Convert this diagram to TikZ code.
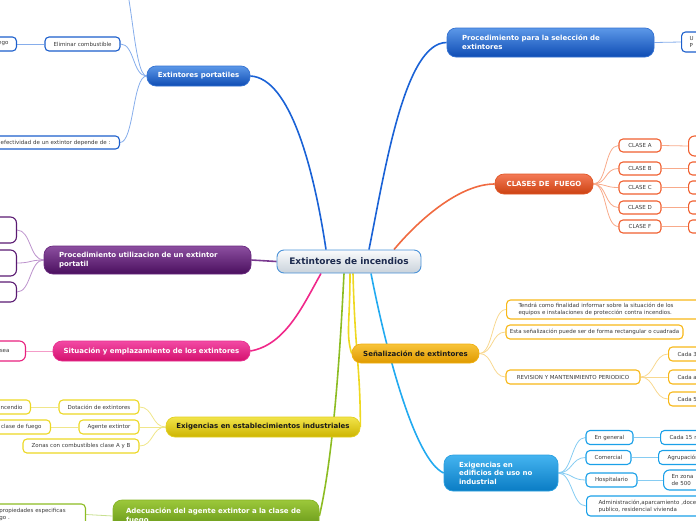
\documentclass[tikz,border=0pt]{standalone}
\usepackage{fontspec}
\setmainfont{DejaVu Sans}
\usetikzlibrary{backgrounds}
\definecolor{txt}{HTML}{3A3A3A}
\definecolor{dtxt}{HTML}{1A1A1A}
\definecolor{ctxt}{HTML}{1C2A4E}
\definecolor{cenT}{HTML}{FAFBFC}
\definecolor{cenB}{HTML}{C9D2DB}
\definecolor{cenD}{HTML}{4A92D8}
\definecolor{bluT}{HTML}{5C98E8}
\definecolor{bluB}{HTML}{0E4CB4}
\definecolor{bluD}{HTML}{3472D2}
\definecolor{bluK}{HTML}{1C5FCC}
\definecolor{bluL}{HTML}{86ADEB}
\definecolor{bluM}{HTML}{1A62D6}
\definecolor{purT}{HTML}{8C4FA0}
\definecolor{purB}{HTML}{4A0F5E}
\definecolor{purD}{HTML}{6A2A80}
\definecolor{purK}{HTML}{5A1A72}
\definecolor{purL}{HTML}{BC92CC}
\definecolor{purM}{HTML}{7A3A90}
\definecolor{pnkT}{HTML}{F24AA4}
\definecolor{pnkB}{HTML}{D4106E}
\definecolor{pnkD}{HTML}{E83090}
\definecolor{pnkK}{HTML}{E8207E}
\definecolor{pnkL}{HTML}{F49CC8}
\definecolor{pnkM}{HTML}{F0288A}
\definecolor{ylwT}{HTML}{F2E44A}
\definecolor{ylwB}{HTML}{CDB400}
\definecolor{ylwD}{HTML}{E2D020}
\definecolor{ylwK}{HTML}{ECD824}
\definecolor{ylwL}{HTML}{F0E68A}
\definecolor{ylwM}{HTML}{EED820}
\definecolor{grnT}{HTML}{9CC83A}
\definecolor{grnB}{HTML}{5E8E12}
\definecolor{grnD}{HTML}{86B426}
\definecolor{grnK}{HTML}{8CBC22}
\definecolor{grnL}{HTML}{C8E090}
\definecolor{grnM}{HTML}{8CBC22}
\definecolor{orgT}{HTML}{F47A56}
\definecolor{orgB}{HTML}{CC4212}
\definecolor{orgD}{HTML}{E05828}
\definecolor{orgK}{HTML}{F06030}
\definecolor{orgL}{HTML}{F8AA8A}
\definecolor{orgM}{HTML}{F06A40}
\definecolor{ambT}{HTML}{F8C43A}
\definecolor{ambB}{HTML}{DF9A00}
\definecolor{ambD}{HTML}{F0B010}
\definecolor{ambK}{HTML}{F8B818}
\definecolor{ambL}{HTML}{F8D890}
\definecolor{cyaT}{HTML}{44B4F0}
\definecolor{cyaB}{HTML}{0A7CC4}
\definecolor{cyaD}{HTML}{2AA0E0}
\definecolor{cyaK}{HTML}{1AA0E8}
\definecolor{cyaL}{HTML}{86CCF2}
\definecolor{cyaM}{HTML}{22AAF0}
\begin{document}
\begin{tikzpicture}[x=1pt,y=-1pt,
  base/.style={inner sep=0pt, align=center},
  cen/.style={base, rounded corners=7pt, top color=cenT, bottom color=cenB, draw=cenD, line width=0.9pt, font=\bfseries\fontsize{9}{10}\selectfont, text=ctxt, minimum width=144pt, minimum height=23pt},
  mainbox/.style={base, rounded corners=9pt, line width=0.7pt, font=\bfseries\fontsize{7}{8.8}\selectfont, text=white},
  kid/.style={base, draw, fill=white, rounded corners=4pt, line width=1.1pt, font=\fontsize{5.5}{7}\selectfont, text=txt, minimum height=14pt},
  thinl/.style={line width=0.8pt},
  thickl/.style={line width=1.6pt},
  bluebox/.style={mainbox, top color=bluT, bottom color=bluB, draw=bluD},
  purbox/.style={mainbox, top color=purT, bottom color=purB, draw=purD},
  pnkbox/.style={mainbox, top color=pnkT, bottom color=pnkB, draw=pnkD},
  ylwbox/.style={mainbox, top color=ylwT, bottom color=ylwB, draw=ylwD, text=dtxt},
  grnbox/.style={mainbox, top color=grnT, bottom color=grnB, draw=grnD},
  orgbox/.style={mainbox, top color=orgT, bottom color=orgB, draw=orgD},
  ambbox/.style={mainbox, top color=ambT, bottom color=ambB, draw=ambD, text=dtxt},
  cyabox/.style={mainbox, top color=cyaT, bottom color=cyaB, draw=cyaD},
  cutl/.style={anchor=east, align=right},
  cutr/.style={anchor=west, align=left}
]
\useasboundingbox (0,0) rectangle (696,520);
\begin{scope}
\clip (0,0) rectangle (696,520);
% central
\node[cen] (c) at (349,261.5) {Extintores de incendios};
% blue
\node[bluebox, minimum width=103pt, minimum height=20pt] (p) at (198.5,76) {Extintores portatiles};
\node[bluebox, text width=177pt, inner xsep=15pt, align=left, minimum height=29pt] (sel) at (550.5,42.5) {Procedimiento para la selección de\\extintores};
\node[kid, draw=bluK, cutr, text width=30pt, inner xsep=8pt, minimum height=20pt] (u) at (681,42) {U\\P};
\node[kid, draw=bluK, minimum width=75pt] (elim) at (82.5,44) {Eliminar combustible};
\node[kid, draw=bluK, cutl, text width=44pt, inner xsep=8pt] (ego) at (17,44) {ego};
\node[kid, draw=bluK, cutl, text width=122pt, inner xsep=9pt, minimum height=13pt] (efe) at (120,142.5) {efectividad de un extintor depende de :};
\coordinate (ptop) at (118,-30);
% purple
\node[purbox, text width=177pt, inner xsep=15pt, align=left, minimum height=28pt] (pu) at (147.5,260) {Procedimiento utilizacion de un extintor\\portatil};
\node[kid, draw=purK, anchor=east, minimum width=50pt, minimum height=26pt, rounded corners=6pt] (pa) at (17,230) {};
\node[kid, draw=purK, anchor=east, minimum width=50pt, minimum height=26pt, rounded corners=6pt] (pb) at (17,263) {};
\node[kid, draw=purK, anchor=east, minimum width=50pt, minimum height=20pt, rounded corners=6pt] (pc) at (17,292) {};
% pink
\node[pnkbox, minimum width=197pt, minimum height=20pt] (pk) at (151.5,351) {Situación y emplazamiento de los extintores};
\node[kid, draw=pnkK, cutl, text width=28pt, inner xsep=16pt, minimum height=20pt, rounded corners=6pt] (sea) at (26,351) {sea};
% yellow
\node[ylwbox, minimum width=194pt, minimum height=20pt] (ind) at (263,427) {Exigencias en establecimientos industriales};
\node[kid, draw=ylwK, minimum width=80pt] (dot) at (99,407) {Dotación de extintores};
\node[kid, draw=ylwK, cutl, text width=44pt, inner xsep=8pt] (inc) at (31,407) {incendio};
\node[kid, draw=ylwK, minimum width=60pt] (age) at (109,427) {Agente extintor};
\node[kid, draw=ylwK, cutl, text width=62pt, inner xsep=9pt] (cla) at (51,427) {clase de fuego};
\node[kid, draw=ylwK, minimum width=116pt] (zon) at (81,446) {Zonas con combustibles clase A y B};
% green
\node[grnbox, text width=180pt, inner xsep=13pt, align=left, minimum height=32pt] (gr) at (216,516) {Adecuación del agente extintor a la clase de\\fuego};
\node[kid, draw=grnK, cutl, align=left, text width=78pt, inner xsep=8pt, minimum height=21pt] (prop) at (86,514.5) {propiedades especificas\\go .};
% orange
\node[orgbox, minimum width=98pt, minimum height=20pt] (cl) at (544,184) {CLASES DE\ \ FUEGO};
\node[kid, draw=orgK, minimum width=42pt, minimum height=13pt] (ka) at (640,145.5) {CLASE A};
\node[kid, draw=orgK, minimum width=42pt, minimum height=13pt] (kb) at (640,168.5) {CLASE B};
\node[kid, draw=orgK, minimum width=42pt, minimum height=13pt] (kc) at (640,187.5) {CLASE C};
\node[kid, draw=orgK, minimum width=42pt, minimum height=13pt] (kd) at (640,207.5) {CLASE D};
\node[kid, draw=orgK, minimum width=42pt, minimum height=13pt] (kf) at (640,226.5) {CLASE F};
\node[kid, draw=orgK, anchor=west, minimum width=30pt, minimum height=20pt, rounded corners=6pt] (kar) at (688,146) {};
\node[kid, draw=orgK, anchor=west, minimum width=30pt, minimum height=13pt] (kbr) at (688,168.5) {};
\node[kid, draw=orgK, anchor=west, minimum width=30pt, minimum height=13pt] (kcr) at (688,187.5) {};
\node[kid, draw=orgK, anchor=west, minimum width=30pt, minimum height=13pt] (kdr) at (688,207.5) {};
\node[kid, draw=orgK, anchor=west, minimum width=30pt, minimum height=13pt] (kfr) at (688,226.5) {};
% amber
\node[ambbox, minimum width=127pt, minimum height=19pt] (se) at (415.5,353.5) {Señalización de extintores};
\node[kid, draw=ambK, cutr, text width=180pt, inner xsep=12pt, minimum height=19pt] (ten) at (506,309.5) {Tendrá como finalidad informar sobre la situación de los\\equipos e instalaciones de protección contra incendios.};
\node[kid, draw=ambK, minimum width=177pt] (esta) at (594.5,332) {Esta señalización puede ser de forma rectangular o cuadrada};
\node[kid, draw=ambK, minimum width=134pt] (rev) at (573,377) {REVISION Y MANTENIMIENTO PERIODICO};
\node[kid, draw=ambK, cutr, text width=30pt, inner xsep=9pt] (ra) at (668,354) {Cada 3};
\node[kid, draw=ambK, cutr, text width=30pt, inner xsep=9pt] (rb) at (668,377) {Cada a};
\node[kid, draw=ambK, cutr, text width=30pt, inner xsep=9pt] (rc) at (668,399) {Cada 5};
% cyan
\node[cyabox, text width=84pt, inner xsep=15pt, align=left, minimum height=36pt, font=\bfseries\fontsize{7}{8.4}\selectfont] (ed) at (501,473) {Exigencias en\\edificios de uso no\\industrial};
\node[kid, draw=cyaK, minimum width=47pt] (gen) at (609.5,437.5) {En general};
\node[kid, draw=cyaK, minimum width=45pt] (com) at (608.5,457.5) {Comercial};
\node[kid, draw=cyaK, minimum width=51pt] (hos) at (611.5,480) {Hospitalario};
\node[kid, draw=cyaK, cutr, text width=110pt, inner xsep=12pt, minimum height=20pt] (adm) at (586,506) {Administración,aparcamiento ,doce\\publico, residencial vivienda};
\node[kid, draw=cyaK, cutr, text width=34pt, inner xsep=9pt] (c15) at (660,437.5) {Cada 15 m};
\node[kid, draw=cyaK, cutr, text width=34pt, inner xsep=9pt] (agr) at (658,457.5) {Agrupación};
\node[kid, draw=cyaK, cutr, text width=34pt, inner xsep=8pt, minimum height=20pt, rounded corners=6pt] (enz) at (663,480) {En zona\\de 500};
\end{scope}

\begin{scope}[on background layer]
\clip (0,0) rectangle (696,520);
% main connectors
\draw[thickl, bluM] ([xshift=-23pt]c.north) .. controls +(-12,-80) and +(40,2) .. (p.east);
\draw[thickl, bluM] ([xshift=20pt]c.north) .. controls +(16,-80) and +(-42,0) .. (sel.west);
\draw[thickl, orgM] ([xshift=45pt]c.north) .. controls +(25,-30) and +(-35,0) .. (cl.west);
\draw[thickl, purM] (c.west) -- (pu.east);
\draw[thickl, pnkM] ([xshift=-28pt]c.south) .. controls +(-18,32) and +(35,-6) .. (pk.east);
\draw[thickl, grnM] ([xshift=-5pt]c.south) .. controls +(-4,80) and +(14,-60) .. (gr.east);
\draw[thickl, ylwM] ([xshift=1pt]c.south) .. controls +(0,50) and +(-6,-20) .. (se.west);
\draw[thickl, ylwM] ([xshift=4pt]c.south) .. controls +(2,80) and +(0,-60) .. (ind.east);
\draw[thickl, cyaM] ([xshift=22pt]c.south) .. controls +(15,77) and +(-29,-13) .. (ed.west);
% blue children
\draw[thinl, bluL] (p.west) .. controls +(-14,0) and +(14,0) .. (elim.east);
\draw[thinl, bluL] (p.west) .. controls +(-14,0) and +(14,0) .. (efe.east);
\draw[thinl, bluL] (p.west) .. controls +(-14,0) and +(14,0) .. (ptop);
\draw[thinl, bluL] (elim.west) -- (ego.east);
\draw[thinl, bluL] (sel.east) -- (u.west);
% purple children
\draw[thinl, purL] (pu.west) .. controls +(-14,0) and +(14,0) .. (pa.east);
\draw[thinl, purL] (pu.west) .. controls +(-14,0) and +(14,0) .. (pb.east);
\draw[thinl, purL] (pu.west) .. controls +(-14,0) and +(14,0) .. (pc.east);
% pink
\draw[thinl, pnkL] (pk.west) -- (sea.east);
% yellow children
\draw[thinl, ylwL] (ind.west) .. controls +(-14,0) and +(14,0) .. (dot.east);
\draw[thinl, ylwL] (ind.west) .. controls +(-14,0) and +(14,0) .. (age.east);
\draw[thinl, ylwL] (ind.west) .. controls +(-14,0) and +(14,0) .. (zon.east);
\draw[thinl, ylwL] (dot.west) -- (inc.east);
\draw[thinl, ylwL] (age.west) -- (cla.east);
% green
\draw[thinl, grnL] (gr.west) -- (prop.east);
% orange children
\foreach \k in {ka,kb,kc,kd,kf}{
  \draw[thinl, orgL] (cl.east) .. controls +(14,0) and +(-14,0) .. (\k.west);
  \draw[thinl, orgL] (\k.east) -- (\k r.west);
}
% amber children
\draw[thinl, ambL] (se.east) .. controls +(14,0) and +(-14,0) .. (ten.west);
\draw[thinl, ambL] (se.east) .. controls +(14,0) and +(-14,0) .. (esta.west);
\draw[thinl, ambL] (se.east) .. controls +(14,0) and +(-14,0) .. (rev.west);
\draw[thinl, ambL] (rev.east) .. controls +(14,0) and +(-14,0) .. (ra.west);
\draw[thinl, ambL] (rev.east) .. controls +(14,0) and +(-14,0) .. (rb.west);
\draw[thinl, ambL] (rev.east) .. controls +(14,0) and +(-14,0) .. (rc.west);
% cyan children
\draw[thinl, cyaL] (ed.east) .. controls +(14,0) and +(-14,0) .. (gen.west);
\draw[thinl, cyaL] (ed.east) .. controls +(14,0) and +(-14,0) .. (com.west);
\draw[thinl, cyaL] (ed.east) .. controls +(14,0) and +(-14,0) .. (hos.west);
\draw[thinl, cyaL] (ed.east) .. controls +(14,0) and +(-14,0) .. (adm.west);
\draw[thinl, cyaL] (gen.east) -- (c15.west);
\draw[thinl, cyaL] (com.east) -- (agr.west);
\draw[thinl, cyaL] (hos.east) -- (enz.west);
\end{scope}
\end{tikzpicture}
\end{document}
